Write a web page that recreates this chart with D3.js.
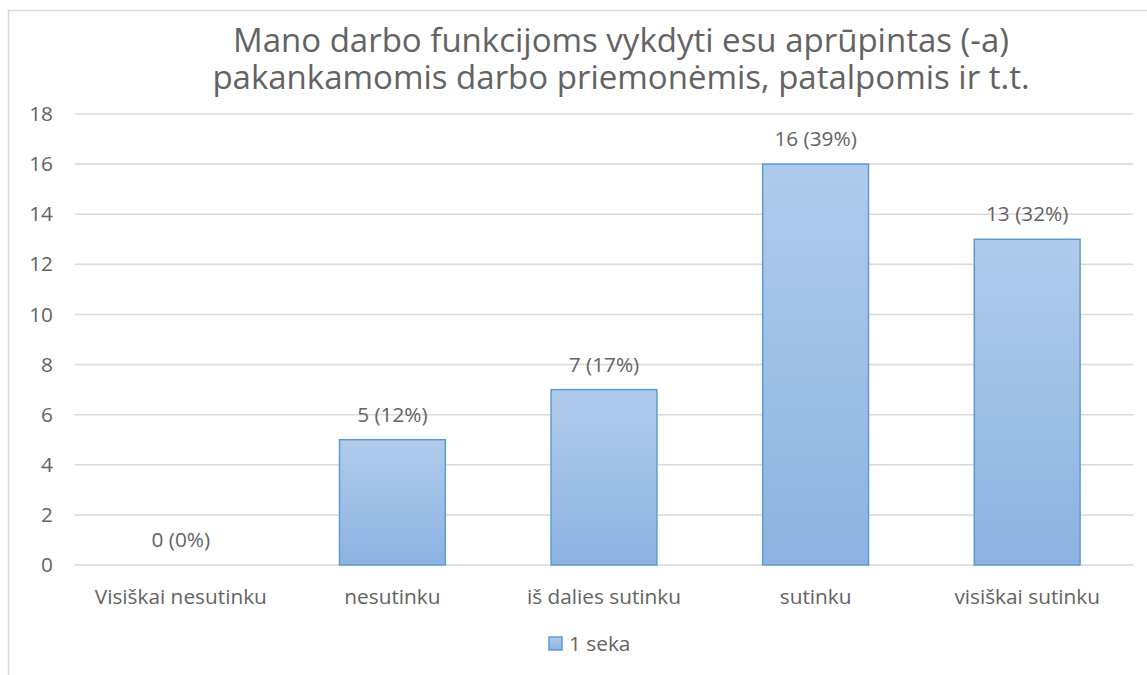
<!DOCTYPE html>
<html>
<head>
<meta charset="utf-8">
<script src="https://cdn.jsdelivr.net/npm/d3@7"></script>
<style>
  body { margin: 0; background: #fff; }
  svg { display: block; font-family: "Open Sans", Lato, sans-serif; }
</style>
</head>
<body>
<div id="chart"></div>
<script>
// chart data
var categories = ["Visiškai nesutinku", "nesutinku", "iš dalies sutinku", "sutinku", "visiškai sutinku"];
var counts = [0, 5, 7, 16, 13];
var percents = [0, 12, 17, 39, 32];
var yTicks = [0, 2, 4, 6, 8, 10, 12, 14, 16, 18];
var titleLines = ["Mano darbo funkcijoms vykdyti esu aprūpintas (-a)", "pakankamomis darbo priemonėmis, patalpomis ir t.t."];
var seriesName = "1 seka";

var width = 1147, height = 675;
var textColor = "#636363";
var labelSize = "20.8px";

var svg = d3.select("#chart").append("svg")
    .attr("width", width)
    .attr("height", height);

// bar gradient
var grad = svg.append("defs").append("linearGradient")
    .attr("id", "barGrad")
    .attr("x1", 0).attr("y1", 0).attr("x2", 0).attr("y2", 1);
grad.append("stop").attr("offset", "0%").attr("stop-color", "#b0caea");
grad.append("stop").attr("offset", "100%").attr("stop-color", "#8db3e2");

// chart area border (runs off the right and bottom of the picture)
svg.append("rect")
    .attr("x", 8.5).attr("y", 10.5)
    .attr("width", 1200).attr("height", 700)
    .attr("fill", "none")
    .attr("stroke", "#d9d9d9")
    .attr("stroke-width", 1.5);

var x = d3.scaleBand()
    .domain(categories)
    .range([75, 1133])
    .paddingInner(0.5)
    .paddingOuter(0.25);

var y = d3.scaleLinear()
    .domain([0, 18])
    .range([565, 114]);

// gridlines
svg.append("g").selectAll("line")
    .data(yTicks)
    .enter().append("line")
    .attr("x1", 75).attr("x2", 1133)
    .attr("y1", function (d) { return y(d); })
    .attr("y2", function (d) { return y(d); })
    .attr("stroke", "#d9d9d9")
    .attr("stroke-width", 1.5);

// y axis labels
var yAxis = d3.axisLeft(y).tickValues(yTicks).tickSize(0).tickPadding(0);
var yg = svg.append("g")
    .attr("transform", "translate(53,0)")
    .call(yAxis);
yg.select(".domain").remove();
yg.selectAll("text")
    .attr("fill", textColor)
    .style("font-size", labelSize)
    .style("font-family", "'Open Sans', Lato, sans-serif");

// x axis labels
var xAxis = d3.axisBottom(x).tickSize(0).tickPadding(0);
var xg = svg.append("g")
    .attr("transform", "translate(0,565)")
    .call(xAxis);
xg.select(".domain").remove();
xg.selectAll("text")
    .attr("fill", textColor)
    .attr("dy", null)
    .attr("y", 39)
    .style("font-size", labelSize)
    .style("font-family", "'Open Sans', Lato, sans-serif");

// bars
svg.append("g").selectAll("rect")
    .data(counts)
    .enter().append("rect")
    .attr("x", function (d, i) { return x(categories[i]); })
    .attr("y", function (d) { return y(d); })
    .attr("width", x.bandwidth())
    .attr("height", function (d) { return y(0) - y(d); })
    .attr("fill", "url(#barGrad)")
    .attr("stroke", function (d) { return d > 0 ? "#5b9bd5" : "none"; })
    .attr("stroke-width", 1.5);

// value labels
svg.append("g").selectAll("text")
    .data(counts)
    .enter().append("text")
    .attr("x", function (d, i) { return x(categories[i]) + x.bandwidth() / 2; })
    .attr("y", function (d) { return y(d) - 18; })
    .attr("text-anchor", "middle")
    .attr("fill", textColor)
    .style("font-size", labelSize)
    .text(function (d, i) { return d + " (" + percents[i] + "%)"; });

// title: one text, two lines
var title = svg.append("text")
    .attr("text-anchor", "middle")
    .attr("fill", textColor)
    .style("font-size", "33px");
title.selectAll("tspan")
    .data(titleLines)
    .enter().append("tspan")
    .attr("x", 621)
    .attr("y", function (d, i) { return 52 + i * 37; })
    .text(function (d) { return d; });

// legend
var legend = svg.append("g").attr("transform", "translate(549,637)");
legend.append("rect")
    .attr("width", 13).attr("height", 13)
    .attr("fill", "url(#barGrad)")
    .attr("stroke", "#5b9bd5")
    .attr("stroke-width", 1.5);
legend.append("text")
    .attr("x", 20).attr("y", 14)
    .attr("fill", textColor)
    .style("font-size", labelSize)
    .text(seriesName);
</script>
</body>
</html>
